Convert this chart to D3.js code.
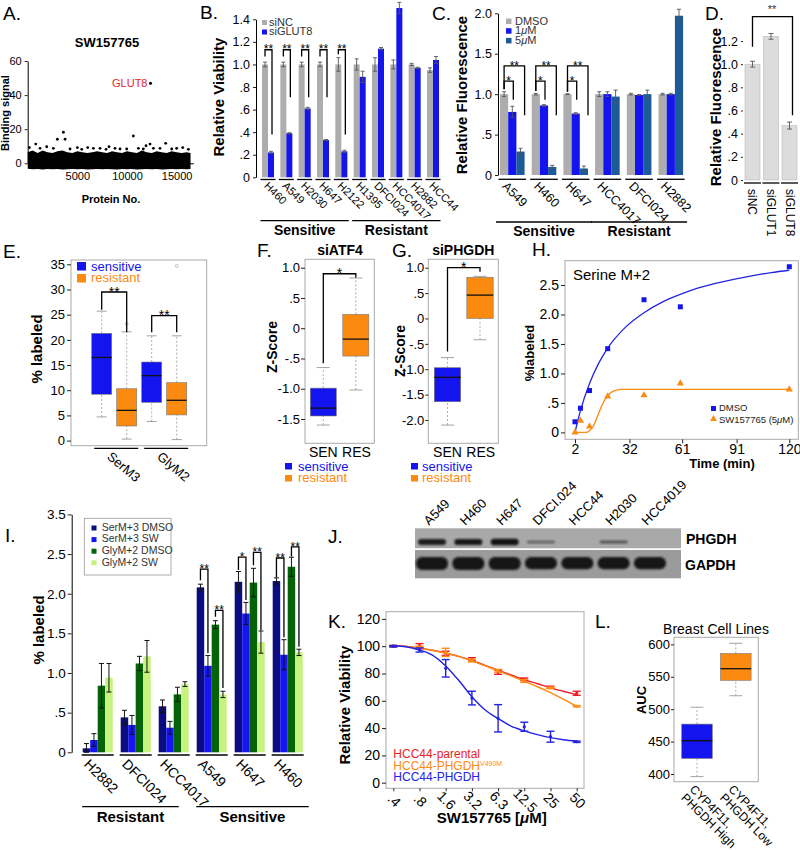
<!DOCTYPE html>
<html><head><meta charset="utf-8">
<script src="https://cdn.jsdelivr.net/npm/d3@7/dist/d3.min.js"></script>
<style>html,body{margin:0;padding:0;background:#fff}</style>
</head><body>
<svg id="fig" width="800" height="850" xmlns="http://www.w3.org/2000/svg"></svg>
<script>
// ================= DATA =================
// Panel A
const aBandProtein = [0,500,1000,1500,2000,2500,3000,3500,4000,4500,5000,5500,6000,6500,7000,7500,8000,8500,9000,9500,10000,10500,11000,11500,12000,12500,13000,13500,14000,14500,15000,15500,16000,16400];
const aBandTop = [6.5,7.5,6,7.5,6.5,6,7,7.5,6.5,6,7,6.5,6,6.5,7,6.5,6,7,6.5,6,7,6.5,6,7.5,6.5,6,7,6.5,6,7,6.5,6,6.5,6];
const aBandBottom = [-3.2,-3.5,-3.4,-3.6,-3.3,-3.5,-3.4,-3.6,-3.5,-3.3,-3.5,-3.4,-3.6,-3.5,-3.3,-3.5,-3.4,-3.5,-3.6,-3.3,-3.5,-3.4,-3.6,-3.5,-3.3,-3.5,-3.4,-3.6,-3.5,-3.3,-3.5,-3.4,-3.5,-3.3];
const aScatterProtein = [170,807,1244,1915,2587,2990,3594,3762,4266,5004,5441,6045,6616,7287,7891,8193,8797,9301,9972,10643,11147,11650,11919,12322,12658,13329,13900,14504,15008,15613,16184];
const aScatterSignal = [9.2,11.3,8.8,9.7,8.8,14.1,18.2,14.1,8.4,9.2,8.2,9.2,8.8,8.8,8.2,9.7,8.8,8.4,8.4,16,8.8,8.4,10.3,11.3,8.8,8.8,11.7,8.4,8.8,9.2,8.2];
const aHitProtein = 12370, aHitSignal = 47, aHitLabel = "GLUT8";
const aYTicks = [0,20,40,60];
const aXTicks = [5000,10000,15000];

// Panel B
const bCells = ["H460","A549","H2030","H647","H2122","H1395","DFCI024","HCC4017","H2882","HCC44"];
const bSiNC = [1,1,1,1,1,1,1,1,1,0.95];
const bSiNCErr = [0.02,0.02,0.02,0.02,0.06,0.05,0.06,0.04,0.01,0.02];
const bSiGLUT8 = [0.22,0.39,0.61,0.33,0.23,0.89,1.14,1.50,0.97,1.04];
const bSiGLUT8Err = [0.01,0.005,0.01,0.005,0.01,0.05,0.01,0.05,0.005,0.03];
const bSigLabel = ["**","**","**","**","**"];
const bSigTop = [1.13,1.13,1.13,1.13,1.13];
const bSigLeftEnd = [1.07,1.07,1.07,1.07,1.09];
const bSigRightEnd = [0.38,0.71,0.71,0.71,0.38];
const bYTicks = [0,0.2,0.4,0.6,0.8,1.0,1.2,1.4];
const bGroupNames = ["Sensitive","Resistant"];
const bGroupFirst = ["H460","H1395"];
const bGroupLast = ["H2122","HCC44"];

// Panel C
const cCells = ["A549","H460","H647","HCC4017","DFCI024","H2882"];
const cSeries = ["DMSO","1\u03bcM","5\u03bcM"];
const cDMSO = [1,1,1,1,1,1];
const cDMSOErr = [0.03,0.01,0.005,0.03,0.01,0.01];
const c1uM = [0.78,0.86,0.76,1.0,0.99,1.0];
const c1uMErr = [0.07,0.01,0.01,0.03,0.005,0.01];
const c5uM = [0.29,0.10,0.08,0.97,1.0,1.97];
const c5uMErr = [0.04,0.02,0.03,0.08,0.05,0.08];
const cYTicks = [0,0.5,1.0,1.5,2.0];
const cSig1Top = [1.16,1.16,1.16], cSig1Left = [1.06,1.04,1.03], cSig1Right = [0.93,0.93,0.93];
const cSig2Top = [1.35,1.35,1.35], cSig2Left = [1.06,1.04,1.03], cSig2Right = [0.74,0.74,0.74];
const cGroupNames = ["Sensitive","Resistant"];
const cGroupFirst = ["A549","HCC4017"];
const cGroupLast = ["H647","H2882"];

// Panel D
const dLabels = ["siNC","siGLUT1","siGLUT8"];
const dValues = [1.0,1.24,0.47];
const dErr = [0.025,0.025,0.03];
const dYTicks = [0,0.2,0.4,0.6,0.8,1.0,1.2];
const dSigTop = 1.41, dSigLeft = 1.15, dSigRight = 0.56;

// Panel E  [lowWhisker, Q1, median, Q3, highWhisker]
const eGroups = ["SerM3","GlyM2"];
const eSensitive = [[4.7,9.2,16.5,21.3,25.7],[3.8,7.6,12.9,15.6,20.8]];
const eResistant = [[0.3,2.9,6.0,10.3,21.6],[0.2,5.1,8.0,11.5,20.8]];
const eResistantOutliers = [[23.2],[34.7]];
const eYTicks = [0,5,10,15,20,25,30,35];
const eSigTop = [29.5,24.8], eSigLeft = [26.0,21.5], eSigRight = [21.5,21.5];

// Panel F (siATF4) and G (siPHGDH)
const fSEN = [-1.6,-1.45,-1.32,-0.99,-0.65];
const fRES = [-1.02,-0.46,-0.18,0.23,0.83];
const fYTicks = [-1.5,-1.0,-0.5,0,0.5,1.0];
const fSigTop = 0.9, fSigLeft = -0.58, fSigRight = 0.84;
const gSEN = [-2.1,-1.64,-1.16,-0.97,-0.77];
const gRES = [-0.42,0.0,0.46,0.81,0.83];
const gYTicks = [-2.0,-1.5,-1.0,-0.5,0,0.5,1.0];
const gSigTop = 1.0, gSigLeft = -0.65, gSigRight = 0.92;

// Panel H
const hTime = [2,5,10,20,40,60,120];
const hDMSO = [0.18,0.41,0.71,1.42,2.25,2.13,2.81];
const hSW = [0.0,0.2,0.1,0.61,0.63,0.83,0.73];
const hFitTime = [2,3,5,10,15,20,30,40,50,60,70,80,90,100,110,120];
const hFitDMSO = [0,0.13,0.37,0.83,1.17,1.43,1.79,2.03,2.21,2.34,2.45,2.53,2.60,2.66,2.71,2.75];
const hFitSWTime = [2,8,10,12,14,16,18,20,22,24,28,40,60,90,120];
const hFitSW = [0,0,0.03,0.1,0.24,0.4,0.53,0.62,0.68,0.71,0.73,0.73,0.73,0.73,0.73];
const hXTicks = [2,32,61,91,120];
const hYTicks = [0,0.5,1.0,1.5,2.0,2.5];

// Panel I
const iCells = ["H2882","DFCI024","HCC4017","A549","H647","H460"];
const iSeriesNames = ["SerM+3 DMSO","SerM+3 SW","GlyM+2 DMSO","GlyM+2 SW"];
const iSerDMSO = [0.05,0.44,0.58,2.08,2.15,2.16];
const iSerDMSOErr = [0.06,0.09,0.08,0.04,0.13,0.04];
const iSerSW = [0.155,0.345,0.31,1.09,1.75,1.23];
const iSerSWErr = [0.08,0.12,0.08,0.13,0.14,0.19];
const iGlyDMSO = [0.84,1.12,0.73,1.61,2.14,2.34];
const iGlyDMSOErr = [0.28,0.09,0.09,0.05,0.18,0.12];
const iGlySW = [0.94,1.21,0.86,0.73,1.39,1.26];
const iGlySWErr = [0.18,0.2,0.03,0.04,0.14,0.04];
const iYTickValues = [0,0.5,1.0,1.5,2.0,2.5,3.0];
const iYTickLabels = ["0",".5","1.0","1.5","2.0","2.5","3.5"];
const iBrCell = ["A549","A549","H647","H647","H460","H460"];
const iBrLeft = [0,2,0,2,0,2];
const iBrRight = [1,3,1,3,1,3];
const iBrLabel = ["**","**","*","**","**","**"];
const iBrTop = [2.31,1.79,2.46,2.52,2.45,2.59];
const iBrLeftEnd = [2.17,1.71,2.30,2.36,2.21,2.47];
const iBrRightEnd = [1.25,0.81,1.92,1.54,1.45,1.33];
const iGroupNames = ["Resistant","Sensitive"];
const iGroupFirst = ["H2882","A549"];
const iGroupLast = ["HCC4017","H460"];

// Panel J (western blot band intensities, 0..1)
const jLanes = ["A549","H460","H647","DFCI.024","HCC44","H2030","HCC4019"];
const jPHGDH = [0.85,0.9,0.95,0.22,0,0.3,0];
const jGAPDH = [1,1,1,0.95,0.95,0.95,0.95];
const jProteins = ["PHGDH","GAPDH"];

// Panel K
const kConc = [0.390625,0.78125,1.5625,3.125,6.25,12.5,25,50];
const kTickLabels = [".4",".8","1.6","3.2","6.3","12.5","25","50"];
const kParental = [100,100.4,94.8,90.4,80.9,75.7,69.9,65.5];
const kParentalErr = [0.5,1.5,1.5,1.2,1.5,1.0,0.8,1.5];
const kV490M = [100,99,95.5,89.5,82,74.5,69.5,56];
const kV490MErr = [0.5,1,3,1,1,1,0.5,0.5];
const kPHGDH = [100,97.2,83.8,62,47.2,41,33.7,30];
const kPHGDHErr = [0.5,1.5,6.4,5,10,3.3,4,0.5];
const kFitConc = [0.390625,0.55,0.78125,1.1,1.5625,2.2,3.125,4.4,6.25,8.8,12.5,17.7,25,35,50];
const kParentalFit = [100.5,99.8,98.6,97,95,92.5,89.5,86,82.5,79,75.5,72.5,69.5,67,64.5];
const kV490MFit = [100.5,99.8,98.6,97,95,92.5,89.3,85.7,82,78.3,74.3,70.3,66,61.3,56];
const kPHGDHFit = [100.3,99.6,97.2,93.5,85.5,75,63,53.5,47,41.5,38,35.2,33,31.5,30.5];
const kYTicks = [0,20,40,60,80,100,120];
const kLegend = ["HCC44-parental","HCC44-PHGDH","HCC44-PHGDH"];

// Panel L
const lGroupLine1 = ["CYP4F11,","CYP4F11,"];
const lGroupLine2 = ["PHGDH High","PHGDH Low"];
const lStats = [[396,424,451.4,477,503],[520.8,544.6,562.5,586,601.7]];
const lYTicks = [400,450,500,550,600];

// ================= DRAWING =================
const FONT = "'Liberation Sans', Arial, Helvetica, sans-serif";
const svg = d3.select("#fig").attr("font-family", FONT);
svg.append("rect").attr("width",800).attr("height",850).attr("fill","#fff");

const BLUE = "#1414ee", ORANGE = "#fb8a10", GRAY = "#adadad", DKBLUE = "#1d5b98";

function T(x,y,str,o={}){
  const t=(o.g||svg).append("text").attr("x",x).attr("y",y)
    .attr("font-size",o.size||12).attr("fill",o.fill||"#000")
    .attr("text-anchor",o.anchor||"start").text(str);
  if(o.weight) t.attr("font-weight",o.weight);
  if(o.rot!=null) t.attr("transform",`rotate(${o.rot},${x},${y})`);
  return t;
}
function L(x1,y1,x2,y2,stroke="#000",w=1,dash=null){
  const l=svg.append("line").attr("x1",x1).attr("y1",y1).attr("x2",x2).attr("y2",y2)
    .attr("stroke",stroke).attr("stroke-width",w);
  if(dash) l.attr("stroke-dasharray",dash);
  return l;
}
const fmtDot = v => { if(Math.abs(v)<1e-9) return "0"; const a=Math.abs(v); let s=a.toFixed(1); if(a<1) s=s.slice(1); return (v<0?"-":"")+s; };
function styleAxis(g,size,noDomain){
  g.attr("font-family",FONT).attr("font-size",size);
  g.selectAll("text").attr("fill","#000");
  g.selectAll(".tick line").attr("stroke","#222");
  if(noDomain) g.select(".domain").remove(); else g.select(".domain").attr("stroke","#000");
}
function errBar(x,yTop,yBot,capW,color,w=1){
  L(x,yTop,x,yBot,color,w); L(x-capW/2,yTop,x+capW/2,yTop,color,w); L(x-capW/2,yBot,x+capW/2,yBot,color,w);
}
function bracket(x1,x2,yTop,yL,yR,label,size=12){
  svg.append("path").attr("d",`M${x1},${yL}V${yTop}H${x2}V${yR}`).attr("fill","none").attr("stroke","#000").attr("stroke-width",1.3);
  if(label) T((x1+x2)/2, yTop-1.5+0.43*size, label, {size:size, anchor:"middle"});
}
function boxPlot(cx,w,s,yS,fill,capW){
  L(cx,yS(s[3]),cx,yS(s[4]),"#999",0.8,"2,2");
  L(cx,yS(s[0]),cx,yS(s[1]),"#999",0.8,"2,2");
  L(cx-capW/2,yS(s[4]),cx+capW/2,yS(s[4]),"#999",0.9);
  L(cx-capW/2,yS(s[0]),cx+capW/2,yS(s[0]),"#999",0.9);
  svg.append("rect").attr("x",cx-w/2).attr("y",yS(s[3])).attr("width",w).attr("height",yS(s[1])-yS(s[3]))
    .attr("fill",fill).attr("stroke","#777").attr("stroke-width",0.6);
  L(cx-w/2,yS(s[2]),cx+w/2,yS(s[2]),"#111",1.3);
}
function frame(x,y,w,h){ svg.append("rect").attr("x",x).attr("y",y).attr("width",w).attr("height",h).attr("fill","none").attr("stroke","#aaa").attr("stroke-width",1); }
function letter(x,y,s){ T(x,y,s,{size:19}); }

// ---------- A ----------
letter(3,20,"A.");
const aX = d3.scaleLinear().domain([0,16680]).range([27.7,193.3]);
const aY = d3.scaleLinear().domain([0,60]).range([163.3,61]);
svg.append("path").datum(aBandProtein).attr("fill","#000")
  .attr("d", d3.area().x(p=>aX(p)).y0((p,i)=>aY(aBandBottom[i])).y1((p,i)=>aY(aBandTop[i])));
svg.append("g").selectAll("circle").data(aScatterProtein).join("circle")
  .attr("cx",p=>aX(p)).attr("cy",(p,i)=>aY(aScatterSignal[i])).attr("r",1.4).attr("fill","#000");
svg.append("circle").attr("cx",aX(aHitProtein)).attr("cy",aY(aHitSignal)).attr("r",1.5).attr("fill","#000");
T(aX(aHitProtein)-3, aY(aHitSignal)+4, aHitLabel, {size:11, fill:"#e8262b", anchor:"end"});
{ const g=svg.append("g").attr("transform","translate(27.7,0)").call(d3.axisLeft(aY).tickValues(aYTicks).tickSize(3).tickSizeOuter(0)); styleAxis(g,11); }
{ const g=svg.append("g").attr("transform","translate(0,163.3)").call(d3.axisBottom(aX).tickValues(aXTicks).tickFormat(d3.format("d")).tickSize(0).tickPadding(9).tickSizeOuter(0)); styleAxis(g,11); }
T(107,47,"SW157765",{size:13,weight:"bold",anchor:"middle"});
T(9,113,"Binding signal",{size:11,weight:"bold",anchor:"middle",rot:-90});
T(111,203,"Protein No.",{size:11,weight:"bold",anchor:"middle"});

// ---------- B ----------
letter(200,19,"B.");
const bX = d3.scaleBand().domain(bCells).range([262,439]).paddingInner(0.345).paddingOuter(0);
const bSub = d3.scaleBand().domain(["siNC","siGLUT8"]).range([0,bX.bandwidth()]);
const bY = d3.scaleLinear().domain([0,1.4]).range([177.3,19.3]);
bCells.forEach((c,i)=>{
  const x0=bX(c), w=bSub.bandwidth();
  svg.append("rect").attr("x",x0+bSub("siNC")).attr("y",bY(bSiNC[i])).attr("width",w).attr("height",bY(0)-bY(bSiNC[i])).attr("fill",GRAY);
  svg.append("rect").attr("x",x0+bSub("siGLUT8")).attr("y",bY(bSiGLUT8[i])).attr("width",w).attr("height",bY(0)-bY(bSiGLUT8[i])).attr("fill",BLUE);
  errBar(x0+bSub("siNC")+w/2,bY(bSiNC[i]+bSiNCErr[i]),bY(bSiNC[i]-bSiNCErr[i]),4,"#555",0.9);
  errBar(x0+bSub("siGLUT8")+w/2,bY(bSiGLUT8[i]+bSiGLUT8Err[i]),bY(bSiGLUT8[i]-bSiGLUT8Err[i]),4,"#555",0.9);
  L(x0-1.5,179.5,x0+bX.bandwidth()+1.5,179.5,"#000",1.3);
  T(x0+1.5,186.5,c,{size:11,rot:45});
});
bSigLabel.forEach((s,i)=>{
  const x0=bX(bCells[i]), w=bSub.bandwidth();
  bracket(x0+bSub("siNC")+w/2, x0+bSub("siGLUT8")+w/2+1, bY(bSigTop[i]), bY(bSigLeftEnd[i]), bY(bSigRightEnd[i]), s, 12);
});
{ const g=svg.append("g").attr("transform","translate(256,0)").call(d3.axisLeft(bY).tickValues(bYTicks).tickFormat(fmtDot).tickSize(3).tickSizeOuter(0)); styleAxis(g,12.5); }
T(224,97,"Relative Viability",{size:15,weight:"bold",anchor:"middle",rot:-90});
svg.append("rect").attr("x",262).attr("y",20).attr("width",5).attr("height",5).attr("fill",GRAY);
svg.append("rect").attr("x",262).attr("y",29.5).attr("width",5).attr("height",5).attr("fill",BLUE);
T(269,25.7,"siNC",{size:11,fill:"#333"});
T(269,35.2,"siGLUT8",{size:11,fill:"#333"});
bGroupNames.forEach((n,i)=>{
  const x1=bX(bGroupFirst[i])-1.5, x2=bX(bGroupLast[i])+bX.bandwidth()+1.5;
  L(x1,220.7,x2,220.7,"#000",1.3);
  T((x1+x2)/2,235,n,{size:14,weight:"bold",anchor:"middle"});
});

// ---------- C ----------
letter(432,20,"C.");
const cX = d3.scaleBand().domain(cCells).range([500,683.1]).paddingInner(0.224).paddingOuter(0);
const cSub = d3.scaleBand().domain(cSeries).range([0,cX.bandwidth()]);
const cY = d3.scaleLinear().domain([0,2]).range([175,13.3]);
const cVals=[cDMSO,c1uM,c5uM], cErrs=[cDMSOErr,c1uMErr,c5uMErr], cCols=[GRAY,BLUE,DKBLUE];
cCells.forEach((c,i)=>{
  const x0=cX(c), w=cSub.bandwidth();
  cSeries.forEach((s,j)=>{
    svg.append("rect").attr("x",x0+cSub(s)).attr("y",cY(cVals[j][i])).attr("width",w).attr("height",cY(0)-cY(cVals[j][i])).attr("fill",cCols[j]);
  });
  cSeries.forEach((s,j)=>{
    errBar(x0+cSub(s)+w/2,cY(cVals[j][i]+cErrs[j][i]),cY(cVals[j][i]-cErrs[j][i]),4,"#555",0.9);
  });
  L(x0-1.5,179.3,x0+cX.bandwidth()+1.5,179.3,"#000",1.3);
  T(x0+1.5,187,c,{size:12.5,rot:45});
});
[0,1,2].forEach(i=>{
  const x0=cX(cCells[i]), w=cSub.bandwidth();
  bracket(x0+cSub("DMSO")+w/2, x0+cSub("1\u03bcM")+w/2+1, cY(cSig1Top[i]), cY(cSig1Left[i]), cY(cSig1Right[i]), "*", 12);
  bracket(x0+cSub("DMSO")+w/2, x0+cSub("5\u03bcM")+w, cY(cSig2Top[i]), cY(cSig2Left[i]), cY(cSig2Right[i]), "**", 12);
});
{ const g=svg.append("g").attr("transform","translate(498,0)").call(d3.axisLeft(cY).tickValues(cYTicks).tickFormat(fmtDot).tickSize(3).tickSizeOuter(0)); styleAxis(g,12.5); }
T(467,95,"Relative Fluorescence",{size:15,weight:"bold",anchor:"middle",rot:-90});
cSeries.forEach((s,j)=>{
  svg.append("rect").attr("x",506).attr("y",18.5+j*9.7).attr("width",5.5).attr("height",5.5).attr("fill",cCols[j]);
  const t=T(515,24.5+j*9.7,"",{size:11,fill:"#333"});
  if(j===0) t.text(s); else { t.append("tspan").text(s[0]); t.append("tspan").attr("font-style","italic").text("\u03bc"); t.append("tspan").text("M"); }
});
cGroupNames.forEach((n,i)=>{
  const x1=cX(cGroupFirst[i])-4, x2=cX(cGroupLast[i])+cX.bandwidth()+4;
  L(x1,222,x2,222,"#000",1.3);
  T((x1+x2)/2,236,n,{size:14,weight:"bold",anchor:"middle"});
});

// ---------- D ----------
letter(705,20,"D.");
const dX = d3.scaleBand().domain(dLabels).range([745,797]).paddingInner(0.19).paddingOuter(0);
const dY = d3.scaleLinear().domain([0,1.2]).range([180,41]);
dLabels.forEach((c,i)=>{
  const x0=dX(c), w=dX.bandwidth();
  svg.append("rect").attr("x",x0).attr("y",dY(dValues[i])).attr("width",w).attr("height",dY(0)-dY(dValues[i])).attr("fill","#dcdcdc").attr("stroke","#bbb").attr("stroke-width",0.6);
  errBar(x0+w/2,dY(dValues[i]+dErr[i]),dY(dValues[i]-dErr[i]),5,"#555",0.9);
  L(x0-1,183,x0+w+1,183,"#000",1.3);
  T(x0+w/2-4,189,c,{size:12,rot:90});
});
bracket(dX("siNC")+dX.bandwidth()/2, dX("siGLUT8")+dX.bandwidth()/2+3, dY(dSigTop), dY(dSigLeft), dY(dSigRight), "", 11);
T((dX("siNC")+dX("siGLUT8")+dX.bandwidth())/2+1, 12.5, "**", {size:11, anchor:"middle", fill:"#333"});
{ const g=svg.append("g").attr("transform","translate(743,0)").call(d3.axisLeft(dY).tickValues(dYTicks).tickFormat(fmtDot).tickSize(2).tickSizeOuter(0)); styleAxis(g,12.5,true); }
T(721,107,"Relative Fluorescence",{size:15,weight:"bold",anchor:"middle",rot:-90});

// ---------- E ----------
letter(3,258,"E.");
frame(71,260,135.7,185.7);
const eX = d3.scaleBand().domain(eGroups).range([89.2,189.2]).paddingInner(0).paddingOuter(0);
const eY = d3.scaleLinear().domain([0,35]).range([440.6,264.3]);
eGroups.forEach((gname,i)=>{
  const c=eX(gname)+eX.bandwidth()/2;
  boxPlot(c-12.5,20,eSensitive[i],eY,BLUE,10);
  boxPlot(c+12.5,20,eResistant[i],eY,ORANGE,10);
  eResistantOutliers[i].forEach(o=>svg.append("circle").attr("cx",c+12.5).attr("cy",eY(o)).attr("r",1.5).attr("fill","none").attr("stroke","#aaa").attr("stroke-width",0.7));
  bracket(c-12.5,c+12.5,eY(eSigTop[i]),eY(eSigLeft[i]),eY(eSigRight[i]),"**",14);
  L(c-20,448.3,c+24,448.3,"#000",1.3);
  T(c-8,458,gname,{size:13,rot:40});
});
{ const g=svg.append("g").attr("transform","translate(71,0)").call(d3.axisLeft(eY).tickValues(eYTicks).tickSize(4).tickPadding(2).tickSizeOuter(0)); styleAxis(g,13,true); }
T(42,349,"% labeled",{size:15,weight:"bold",anchor:"middle",rot:-90});
svg.append("rect").attr("x",77).attr("y",262).attr("width",9).attr("height",8.5).attr("fill",BLUE);
svg.append("rect").attr("x",77).attr("y",274).attr("width",9).attr("height",8.5).attr("fill",ORANGE);
T(91,270.7,"sensitive",{size:13,fill:BLUE});
T(91,282.3,"resistant",{size:13,fill:ORANGE});

// ---------- F ----------
letter(257,257,"F.");
frame(305,259.3,69.3,184);
const fY = d3.scaleLinear().domain([-1.5,1.0]).range([419,267.7]);
boxPlot(323.3,26,fSEN,fY,BLUE,13);
boxPlot(355.8,26,fRES,fY,ORANGE,13);
bracket(323.3,355.8,fY(fSigTop),fY(fSigLeft),fY(fSigRight),"*",14);
{ const g=svg.append("g").attr("transform","translate(305,0)").call(d3.axisLeft(fY).tickValues(fYTicks).tickFormat(fmtDot).tickSize(4).tickPadding(1).tickSizeOuter(0)); styleAxis(g,13,true); }
T(340,255,"siATF4",{size:14,weight:"bold",anchor:"middle"});
T(277,347,"Z-Score",{size:14,weight:"bold",anchor:"middle",rot:-90});
T(323.3,457,"SEN",{size:14,anchor:"middle"});
T(356.5,457,"RES",{size:14,anchor:"middle"});
svg.append("rect").attr("x",285).attr("y",463).attr("width",7).attr("height",6.5).attr("fill",BLUE);
svg.append("rect").attr("x",285).attr("y",475).attr("width",7).attr("height",6.5).attr("fill",ORANGE);
T(298,470.5,"sensitive",{size:13,fill:BLUE});
T(298,482.3,"resistant",{size:13,fill:ORANGE});

// ---------- G ----------
letter(392,257,"G.");
frame(428.3,259.3,70,184);
const gY = d3.scaleLinear().domain([-2.0,1.0]).range([420,267.7]);
boxPlot(447.5,26.4,gSEN,gY,BLUE,13);
boxPlot(480,26.4,gRES,gY,ORANGE,13);
bracket(447.5,480,gY(gSigTop),gY(gSigLeft),gY(gSigRight),"*",14);
{ const g=svg.append("g").attr("transform","translate(428.3,0)").call(d3.axisLeft(gY).tickValues(gYTicks).tickFormat(fmtDot).tickSize(3).tickPadding(1).tickSizeOuter(0)); styleAxis(g,13,true); }
T(463.3,255,"siPHGDH",{size:14,weight:"bold",anchor:"middle"});
T(405,351,"Z-Score",{size:14,weight:"bold",anchor:"middle",rot:-90});
T(447.5,457,"SEN",{size:14,anchor:"middle"});
T(480.7,457,"RES",{size:14,anchor:"middle"});
svg.append("rect").attr("x",411).attr("y",463).attr("width",7).attr("height",6.5).attr("fill",BLUE);
svg.append("rect").attr("x",411).attr("y",475).attr("width",7).attr("height",6.5).attr("fill",ORANGE);
T(422,470.5,"sensitive",{size:13,fill:BLUE});
T(422,482.3,"resistant",{size:13,fill:ORANGE});

// ---------- H ----------
letter(532,256,"H.");
frame(565,260.7,233.3,178.6);
const hX = d3.scaleLinear().domain([2,120]).range([575,789.3]);
const hY = d3.scaleLinear().domain([0,2.5]).range([432.4,285]);
const hLine = d3.line().x(d=>hX(d[0])).y(d=>hY(d[1])).curve(d3.curveMonotoneX);
svg.append("path").attr("d",hLine(hFitTime.map((t,i)=>[t,hFitDMSO[i]]))).attr("fill","none").attr("stroke","#2424e0").attr("stroke-width",1.3);
svg.append("path").attr("d",hLine(hFitSWTime.map((t,i)=>[t,hFitSW[i]]))).attr("fill","none").attr("stroke",ORANGE).attr("stroke-width",1.3);
hTime.forEach((t,i)=>{
  svg.append("rect").attr("x",hX(t)-2.5).attr("y",hY(hDMSO[i])-2.5).attr("width",5).attr("height",5).attr("fill",BLUE);
  svg.append("path").attr("d",d3.symbol(d3.symbolTriangle,22)()).attr("transform",`translate(${hX(t)},${hY(hSW[i])})`).attr("fill",ORANGE);
});
{ const g=svg.append("g").attr("transform","translate(565,0)").call(d3.axisLeft(hY).tickValues(hYTicks).tickFormat(fmtDot).tickSize(4).tickPadding(2).tickSizeOuter(0)); styleAxis(g,14,true); }
{ const g=svg.append("g").attr("transform","translate(0,439.3)").call(d3.axisBottom(hX).tickValues(hXTicks).tickFormat(d3.format("d")).tickSize(4).tickPadding(1).tickSizeOuter(0)); styleAxis(g,14,true); }
T(573,280,"Serine M+2",{size:15});
T(534,353,"%labeled",{size:13,weight:"bold",anchor:"middle",rot:-90});
T(722,468,"Time (min)",{size:13,weight:"bold",anchor:"middle"});
svg.append("rect").attr("x",711).attr("y",406).attr("width",5).attr("height",5).attr("fill",BLUE);
svg.append("path").attr("d",d3.symbol(d3.symbolTriangle,20)()).attr("transform","translate(713.5,419)").attr("fill",ORANGE);
T(719,411.3,"DMSO",{size:9.5,fill:"#222"});
{ const t=T(719,422.5,"SW157765 (5",{size:9.5,fill:"#222"}); t.append("tspan").attr("font-style","italic").text("\u03bc"); t.append("tspan").text("M)"); }

// ---------- I ----------
letter(5,542,"I.");
const iX = d3.scaleBand().domain(iCells).range([82.7,302.7]).paddingInner(0.2105).paddingOuter(0);
const iSub = d3.scaleBand().domain([0,1,2,3]).range([0,iX.bandwidth()]);
const iY = d3.scaleLinear().domain([0,3]).range([752.3,514.4]);
const iVals=[iSerDMSO,iSerSW,iGlyDMSO,iGlySW], iErrs=[iSerDMSOErr,iSerSWErr,iGlyDMSOErr,iGlySWErr];
const iCols=["#0c0c82","#1515f0","#066206","#c6f27e"];
iCells.forEach((c,i)=>{
  const x0=iX(c), w=iSub.bandwidth();
  [0,1,2,3].forEach(j=>{
    svg.append("rect").attr("x",x0+iSub(j)).attr("y",iY(iVals[j][i])).attr("width",w).attr("height",iY(0)-iY(iVals[j][i])).attr("fill",iCols[j]);
  });
  [0,1,2,3].forEach(j=>{
    errBar(x0+iSub(j)+w/2,iY(iVals[j][i]+iErrs[j][i]),iY(Math.max(0,iVals[j][i]-iErrs[j][i])),5,"#111",1);
  });
  L(x0-1,755,x0+iX.bandwidth()+1,755,"#000",1.3);
  T(x0+0.5,765,c,{size:14,rot:45});
});
iBrCell.forEach((c,k)=>{
  const x0=iX(c), w=iSub.bandwidth();
  bracket(x0+iSub(iBrLeft[k])+w/2, x0+iSub(iBrRight[k])+w/2, iY(iBrTop[k]), iY(iBrLeftEnd[k]), iY(iBrRightEnd[k]), iBrLabel[k], 12);
});
{ const g=svg.append("g").attr("transform","translate(71.7,0)").call(d3.axisLeft(iY).tickValues(iYTickValues).tickFormat((d,i)=>iYTickLabels[i]).tickSize(4).tickPadding(2).tickSizeOuter(0)); styleAxis(g,13.5); }
T(44,630,"% labeled",{size:15,weight:"bold",anchor:"middle",rot:-90});
svg.append("rect").attr("x",84.3).attr("y",518.3).attr("width",86.7).attr("height",56.7).attr("fill","#fff").attr("stroke","#999").attr("stroke-width",0.8);
iSeriesNames.forEach((n,j)=>{
  svg.append("rect").attr("x",91.5).attr("y",525.5+j*11.6).attr("width",5).attr("height",5).attr("fill",iCols[j]);
  T(101.7,530.8+j*11.6,n,{size:10.5,fill:"#333"});
});
iGroupNames.forEach((n,i)=>{
  const x1=iX(iGroupFirst[i])-0.5, x2=iX(iGroupLast[i])+iX.bandwidth()+(i===0?-10:6);
  L(x1,806.7,x2,806.7,"#000",1.3);
  T((x1+x2)/2,822,n,{size:15,weight:"bold",anchor:"middle"});
});

// ---------- J ----------
letter(328,543,"J.");
const defs = svg.append("defs");
defs.append("filter").attr("id","blot").attr("x","-20%").attr("y","-50%").attr("width","140%").attr("height","200%")
  .append("feGaussianBlur").attr("stdDeviation",1.1);
const jX = d3.scalePoint().domain(jLanes).range([432,650]);
const jRows = [{y:528.3,h:20,fill:"#a9a9a9"},{y:550,h:28.3,fill:"#9b9b9b"}];
jRows.forEach(r=>svg.append("rect").attr("x",415).attr("y",r.y).attr("width",266).attr("height",r.h).attr("fill",r.fill));
jLanes.forEach((ln,i)=>{
  const cx=jX(ln);
  if(jPHGDH[i]>0){
    const h=1.2+5.5*jPHGDH[i];
    svg.append("rect").attr("x",cx-14).attr("y",542-h/2).attr("width",28).attr("height",h).attr("rx",h/2)
      .attr("fill","#111").attr("opacity",0.35+0.65*jPHGDH[i]).attr("filter","url(#blot)");
  }
  svg.append("rect").attr("x",cx-16).attr("y",557).attr("width",32).attr("height",13*jGAPDH[i]).attr("rx",6)
    .attr("fill","#141414").attr("filter","url(#blot)");
  T(cx-3,526,ln,{size:13,rot:-45});
});
T(686,544,jProteins[0],{size:14,weight:"bold"});
T(685,570,jProteins[1],{size:14,weight:"bold"});

// ---------- K ----------
letter(328,628,"K.");
frame(386,611.7,198,176.6);
const kX = d3.scaleLog().base(2).domain([0.390625,50]).range([393.3,576.7]);
const kY = d3.scaleLinear().domain([0,120]).range([782.7,618.9]);
const kLine = d3.line().x(d=>kX(d[0])).y(d=>kY(d[1])).curve(d3.curveMonotoneX);
const kSets = [
  {vals:kParental,err:kParentalErr,fit:kParentalFit,col:"#ee1c24"},
  {vals:kV490M,err:kV490MErr,fit:kV490MFit,col:"#ff8a12"},
  {vals:kPHGDH,err:kPHGDHErr,fit:kPHGDHFit,col:"#2222e6"}
];
kSets.forEach(s=>{
  svg.append("path").attr("d",kLine(kFitConc.map((c,i)=>[c,s.fit[i]]))).attr("fill","none").attr("stroke",s.col).attr("stroke-width",1.4);
  kConc.forEach((c,i)=>{
    errBar(kX(c),kY(s.vals[i]+s.err[i]),kY(s.vals[i]-s.err[i]),8,s.col,1.4);
    svg.append("circle").attr("cx",kX(c)).attr("cy",kY(s.vals[i])).attr("r",1.6).attr("fill",s.col);
  });
});
{ const g=svg.append("g").attr("transform","translate(386,0)").call(d3.axisLeft(kY).tickValues(kYTicks).tickSize(4).tickPadding(2).tickSizeOuter(0)); styleAxis(g,14,true); }
{ const g=svg.append("g").attr("transform","translate(0,788.3)").call(d3.axisBottom(kX).tickValues(kConc).tickFormat(()=>"").tickSize(3).tickSizeOuter(0)); styleAxis(g,14,true); }
kConc.forEach((c,i)=>T(kX(c)-2.5,804,kTickLabels[i],{size:14,anchor:"middle",rot:45}));
T(350,705,"Relative Viability",{size:15,weight:"bold",anchor:"middle",rot:-90});
{ const t=T(491.7,823,"SW157765 [",{size:15,weight:"bold",anchor:"middle"}); t.append("tspan").attr("font-style","italic").text("\u03bc"); t.append("tspan").text("M]"); }
T(393.3,758,kLegend[0],{size:12,fill:"#ee1c24"});
{ const t=T(393.3,769.5,kLegend[1],{size:12,fill:"#ff8a12"}); t.append("tspan").attr("font-size",7).attr("dy",-4).text("V490M"); }
T(393.3,781,kLegend[2],{size:12,fill:"#2222e6"});

// ---------- L ----------
letter(595,628,"L.");
frame(674,637.3,84.3,144.4);
const lY = d3.scaleLinear().domain([400,600]).range([774,644.4]);
const lCenters = d3.scalePoint().domain(lGroupLine2).range([697,735.8]);
boxPlot(lCenters(lGroupLine2[0]),30.6,lStats[0],lY,BLUE,13);
boxPlot(lCenters(lGroupLine2[1]),30.6,lStats[1],lY,ORANGE,13);
{ const g=svg.append("g").attr("transform","translate(674,0)").call(d3.axisLeft(lY).tickValues(lYTicks).tickSize(3).tickPadding(1).tickSizeOuter(0)); styleAxis(g,13,true); }
T(716,634,"Breast Cell Lines",{size:14,anchor:"middle"});
T(646,700,"AUC",{size:13,weight:"bold",anchor:"middle",rot:-90});
lGroupLine2.forEach((n,i)=>{
  const cx=lCenters(n);
  const g=svg.append("g").attr("transform",`translate(${cx-8},790) rotate(45)`);
  g.append("text").attr("x",0).attr("y",0).attr("font-size",12).text(lGroupLine1[i]);
  g.append("text").attr("x",0).attr("y",12).attr("font-size",12).text(n);
});
</script>
</body></html>
